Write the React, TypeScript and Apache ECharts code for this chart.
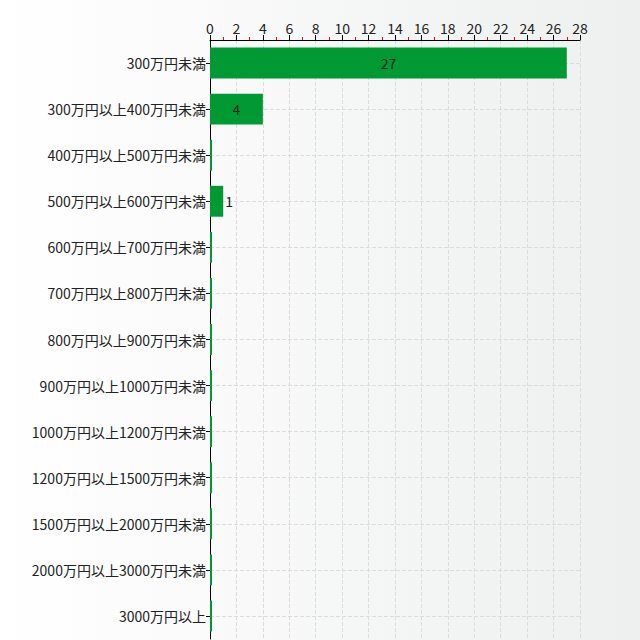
import React, { useEffect, useRef } from 'react';
import * as echarts from 'echarts';

const categories = [
  '300万円未満', '300万円以上400万円未満', '400万円以上500万円未満', '500万円以上600万円未満',
  '600万円以上700万円未満', '700万円以上800万円未満', '800万円以上900万円未満', '900万円以上1000万円未満',
  '1000万円以上1200万円未満', '1200万円以上1500万円未満', '1500万円以上2000万円未満', '2000万円以上3000万円未満',
  '3000万円以上',
];
const counts = [27, 4, 0, 1, 0, 0, 0, 0, 0, 0, 0, 0, 0];
// bars too narrow to hold their label get it on the right
const outsideLabel = [false, false, false, true, false, false, false, false, false, false, false, false, false];

const FONT = '"Noto Sans CJK JP", "Noto Sans", sans-serif';

export default function App() {
  const ref = useRef<HTMLDivElement>(null);
  useEffect(() => {
    if (!ref.current) return;
    const chart = echarts.init(ref.current, null, { renderer: 'svg' });
    chart.setOption({
      animation: false,
      backgroundColor: new echarts.graphic.LinearGradient(0, 0, 1, 0, [
        { offset: 0, color: '#ffffff' },
        { offset: 1, color: '#edf0ee' },
      ]),
      textStyle: { fontFamily: FONT },
      grid: { left: 210, right: 60, top: 40, bottom: 1, containLabel: false },
      xAxis: {
        type: 'value', position: 'top', min: 0, max: 28, interval: 2,
        axisLine: { show: true, lineStyle: { color: '#000' } },
        axisTick: { show: true, lineStyle: { color: '#000' } },
        minorTick: { show: true, splitNumber: 2, length: 3, lineStyle: { color: '#ff0000' } },
        axisLabel: { color: '#222', fontSize: 14, fontFamily: FONT, margin: 5 },
        splitLine: { show: true, lineStyle: { color: '#dcdcdc', type: 'dashed' } },
      },
      yAxis: {
        type: 'category', inverse: true, data: categories,
        axisLine: { show: true, lineStyle: { color: '#000' } },
        axisTick: { show: true, alignWithLabel: true, length: 4, lineStyle: { color: '#000' } },
        axisLabel: { color: '#222', fontSize: 14, fontFamily: FONT, margin: 4 },
        splitLine: { show: true, alignWithLabel: true, lineStyle: { color: '#dcdcdc', type: 'dashed' } },
      },
      series: [{
        type: 'bar',
        barCategoryGap: '33%',
        barMinHeight: 2,
        itemStyle: { color: '#009933' },
        label: { show: true, position: 'inside', color: '#222', fontSize: 14, fontFamily: FONT,
          formatter: (p: any) => (p.value > 0 ? String(p.value) : '') },
        data: counts.map((v, i) => outsideLabel[i]
          ? { value: v, label: { position: 'right', distance: 2 } }
          : v),
      }],
    });
    return () => chart.dispose();
  }, []);
  return <div ref={ref} style={{ width: 640, height: 640, position: 'absolute', left: 0, top: 0 }} />;
}
